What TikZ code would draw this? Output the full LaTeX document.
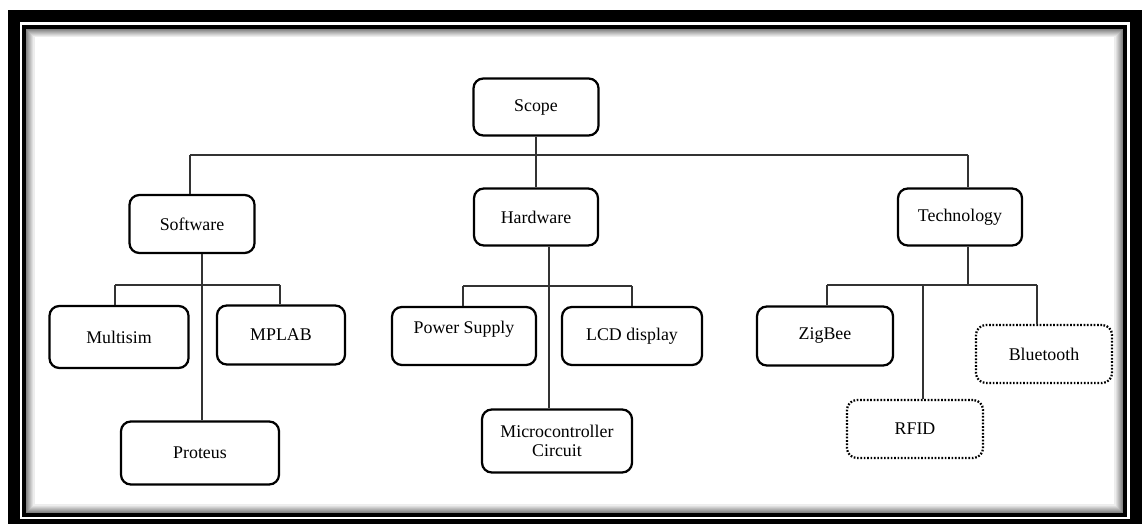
\documentclass[tikz,border=0pt]{standalone}
\usepackage{fontspec}
\setmainfont{Liberation Serif}
\usetikzlibrary{positioning}

\begin{document}
\begin{tikzpicture}[x=0.025cm,y=-0.025cm]
	\tikzset{
		blk/.style={draw, line width=1.6pt, rounded corners=7pt, align=center,
			inner sep=0pt, font=\fontsize{12.7}{14}\selectfont},
		dotblk/.style={blk, dash pattern=on 1.2pt off 1.2pt},
		wire/.style={line width=0.8pt, draw=black!80}
	}
	\useasboundingbox (0,0) rectangle (1147,524);
	
	% frame
	\draw[line width=0.3cm] (14,16) rectangle (1136,525);
	\draw[line width=0.11cm] (24.5,27) rectangle (1124.5,515);
	\foreach \i [evaluate=\i as \g using {int(55-6*\i)}] in {1,...,8}
		\draw[line width=0.03cm, black!\g] (26+\i,28.5+\i) rectangle (1123-\i,513-\i);
	
	\node[blk, minimum width=3.125cm, minimum height=1.425cm] (scope) at (536,107) {Scope};
	
	\node[blk, minimum width=3.125cm, minimum height=1.45cm] (software) at (192,224) {Software};
	\node[blk, minimum width=3.1cm, minimum height=1.425cm] (hardware) at (536,217) {Hardware};
	\node[blk, minimum width=3.1cm, minimum height=1.425cm] (technology) at (960,217) {Technology};
	
	\node[blk, minimum width=3.475cm, minimum height=1.55cm] (multisim) at (119,337) {Multisim};
	\node[blk, minimum width=3.2cm, minimum height=1.475cm] (mplab) at (281,335) {MPLAB};
	\node[blk, minimum width=3.95cm, minimum height=1.575cm] (proteus) at (200,453) {Proteus};
	
	\node[blk, minimum width=3.6cm, minimum height=1.45cm, text depth=13pt] (power) at (464,336) {Power Supply};
	\node[blk, minimum width=3.5cm, minimum height=1.45cm] (lcd) at (632,336) {LCD display};
	\node[blk, minimum width=3.75cm, minimum height=1.575cm] (micro) at (557,441) {Microcontroller\\Circuit};
	
	\node[blk, minimum width=3.4cm, minimum height=1.475cm] (zigbee) at (825,336) {ZigBee};
	\node[dotblk, minimum width=3.4cm, minimum height=1.45cm] (bluetooth) at (1044,354) {Bluetooth};
	\node[dotblk, minimum width=3.4cm, minimum height=1.45cm] (rfid) at (915,429) {RFID};
	
	% top level
	\coordinate (top) at (536,155);
	\coordinate (topl) at (190,155);
	\coordinate (topr) at (968,155);
	\draw[wire] (scope.south) -- (top);
	\draw[wire] (topl) -- (topr);
	\draw[wire] (topl) -- (topl |- software.north);
	\draw[wire] (top) -- (hardware.north);
	\draw[wire] (topr) -- (topr |- technology.north);
	
	% software
	\coordinate (swbus) at (202,285);
	\coordinate (swl) at (115,285);
	\coordinate (swr) at (280,285);
	\draw[wire] (swbus |- software.south) -- (swbus |- proteus.north);
	\draw[wire] (swl) -- (swr);
	\draw[wire] (swl) -- (swl |- multisim.north);
	\draw[wire] (swr) -- (swr |- mplab.north);
	
	% hardware
	\coordinate (hwbus) at (549,286);
	\coordinate (hwl) at (463,286);
	\coordinate (hwr) at (632,286);
	\draw[wire] (hwbus |- hardware.south) -- (hwbus |- micro.north);
	\draw[wire] (hwl) -- (hwr);
	\draw[wire] (hwl) -- (hwl |- power.north);
	\draw[wire] (hwr) -- (hwr |- lcd.north);
	
	% technology
	\coordinate (tcbus) at (968,285);
	\coordinate (tcl) at (827,285);
	\coordinate (tcm) at (923,285);
	\coordinate (tcr) at (1037,285);
	\draw[wire] (tcbus |- technology.south) -- (tcbus);
	\draw[wire] (tcl) -- (tcr);
	\draw[wire] (tcl) -- (tcl |- zigbee.north);
	\draw[wire] (tcm) -- (tcm |- rfid.north);
	\draw[wire] (tcr) -- (tcr |- bluetooth.north);
	
\end{tikzpicture}
\end{document}
